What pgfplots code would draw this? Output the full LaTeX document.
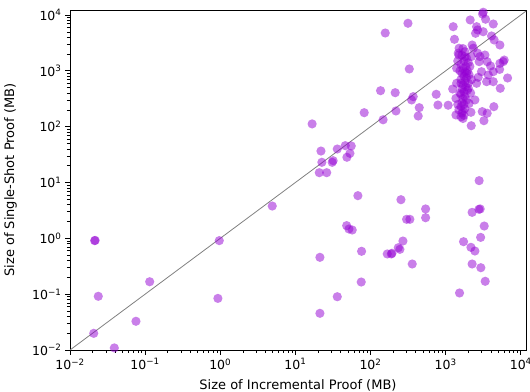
\documentclass[border=0pt]{standalone}
\usepackage{pgfplots}
\pgfplotsset{compat=1.18}
\usepackage{fontspec}
\setmainfont{DejaVu Sans}
\definecolor{dviolet}{RGB}{148,0,211}
\pgfplotstableread{
x y
0.0213 0.908
0.0216 0.92
0.115 0.167
0.0238 0.0916
0.0755 0.0327
0.0207 0.0199
0.0139 0.0099
0.0389 0.0109
0.97 0.91
0.93 0.084
4.92 3.79
16.7 112
21.9 36.6
22.5 23.0
20.8 15.0
26.1 15.0
30.9 23.0
31.8 24.6
36.1 39.8
46.1 45.7
55.4 45.1
53.2 33.3
48.5 28.3
82.4 178
147 133
136 441
213 406
218 191
157 4760
315 7110
328 1080
370 345
352 301
445 219
431 155
749 380
789 244
1080 242
1260 6180
1310 3670
2120 8150
3100 10400
3160 11200
3400 8400
4300 6900
2580 6180
2660 5400
2500 4700
3160 5020
4080 4210
4420 3570
5270 2900
2250 2900
2330 2540
1510 2540
1470 2070
2660 2070
2860 1800
3330 1920
2790 1460
3570 1460
3960 1220
5270 1360
6010 1560
5830 1460
5220 1060
6670 745
5330 487
4300 640
3510 640
3690 843
2710 766
3000 966
4300 966
2580 598
2000 487
2450 301
3070 186
3570 174
4380 228
3230 128
2170 181
2190 104
1370 162
1240 473
1370 322
1400 1110
1500 1920
1700 2500
1800 2200
1650 1900
1900 1700
1750 1500
2000 1400
1600 1300
1850 1200
1700 1100
1950 1000
1800 950
1650 900
2050 850
1750 800
1900 750
1600 700
1800 650
2000 600
1700 560
1850 520
1650 480
1950 450
1750 420
1600 380
1800 350
1700 320
1900 300
1650 270
1750 250
1600 230
1800 210
1700 190
1650 175
1750 160
1600 150
1700 140
1550 1000
1600 600
1550 400
1900 900
2100 1200
1800 1800
1400 600
2200 700
1450 250
2150 400
2200 1800
1450 1500
1500 200
2050 260
2790 10.8
67.9 5.81
254 4.92
541 3.36
541 2.34
302 2.19
334 2.19
48.1 1.69
51.6 1.47
57.1 1.41
21.2 0.457
76 0.586
270 0.895
234 0.679
246 0.635
167 0.525
189 0.525
193 0.54
359 0.347
75.2 0.165
36.1 0.090
21.2 0.0454
1730 0.871
2170 0.690
2450 0.593
2250 2.92
2770 3.31
2880 3.36
3260 1.66
2920 1.04
2250 0.347
2940 0.298
3360 0.170
1530 0.105
}\pts
\begin{document}
\begin{tikzpicture}
\useasboundingbox (-70bp,-42bp) rectangle (460bp,350bp);
\begin{axis}[
  at={(0,0)}, anchor=south west,
  scale only axis, width=456bp, height=340bp,
  xmode=log, ymode=log,
  xmin=1e-2, xmax=1.173e4, ymin=1e-2, ymax=1.229e4,
  axis line style={line width=0.8bp},
  tick pos=left, tick align=outside,
  major tick length=5bp, minor tick length=3bp,
  every tick/.style={black, line width=0.8bp},
  minor tick style={line width=0.6bp},
  xtick={1e-2,1e-1,1,1e1,1e2,1e3,1e4},
  ytick={1e-2,1e-1,1,1e1,1e2,1e3,1e4},
  xticklabels={10\textsuperscript{−2},10\textsuperscript{−1},10\textsuperscript{0},10\textsuperscript{1},10\textsuperscript{2},10\textsuperscript{3},10\textsuperscript{4}},
  yticklabels={10\textsuperscript{−2},10\textsuperscript{−1},10\textsuperscript{0},10\textsuperscript{1},10\textsuperscript{2},10\textsuperscript{3},10\textsuperscript{4}},
  minor xtick={2e-2,3e-2,4e-2,5e-2,6e-2,7e-2,8e-2,9e-2,2e-1,3e-1,4e-1,5e-1,6e-1,7e-1,8e-1,9e-1,2,3,4,5,6,7,8,9,20,30,40,50,60,70,80,90,200,300,400,500,600,700,800,900,2000,3000,4000,5000,6000,7000,8000,9000},
  minor ytick={2e-2,3e-2,4e-2,5e-2,6e-2,7e-2,8e-2,9e-2,2e-1,3e-1,4e-1,5e-1,6e-1,7e-1,8e-1,9e-1,2,3,4,5,6,7,8,9,20,30,40,50,60,70,80,90,200,300,400,500,600,700,800,900,2000,3000,4000,5000,6000,7000,8000,9000},
  tick label style={font=\fontsize{12.5bp}{15bp}\selectfont},
  xticklabel style={inner xsep=1bp},
  label style={font=\fontsize{13bp}{15bp}\selectfont},
  xlabel={Size of Incremental Proof (MB)},
  ylabel={Size of Single-Shot Proof (MB)},
  xlabel style={at={(axis description cs:0.5,-0.116)}, anchor=base},
  ylabel style={at={(axis description cs:-0.1305,0.5)}, anchor=center, rotate=0},
]
\addplot[color={rgb,255:red,128;green,128;blue,128}, line width=0.8bp] coordinates {(1e-2,1e-2) (2e4,2e4)};
\addplot[only marks, mark=*, mark size=4.6bp, color=dviolet, draw opacity=0, fill opacity=0.5, mark options={solid, draw=dviolet, fill=dviolet, draw opacity=0, fill opacity=0.5}] table {\pts};
\end{axis}
\end{tikzpicture}
\end{document}
